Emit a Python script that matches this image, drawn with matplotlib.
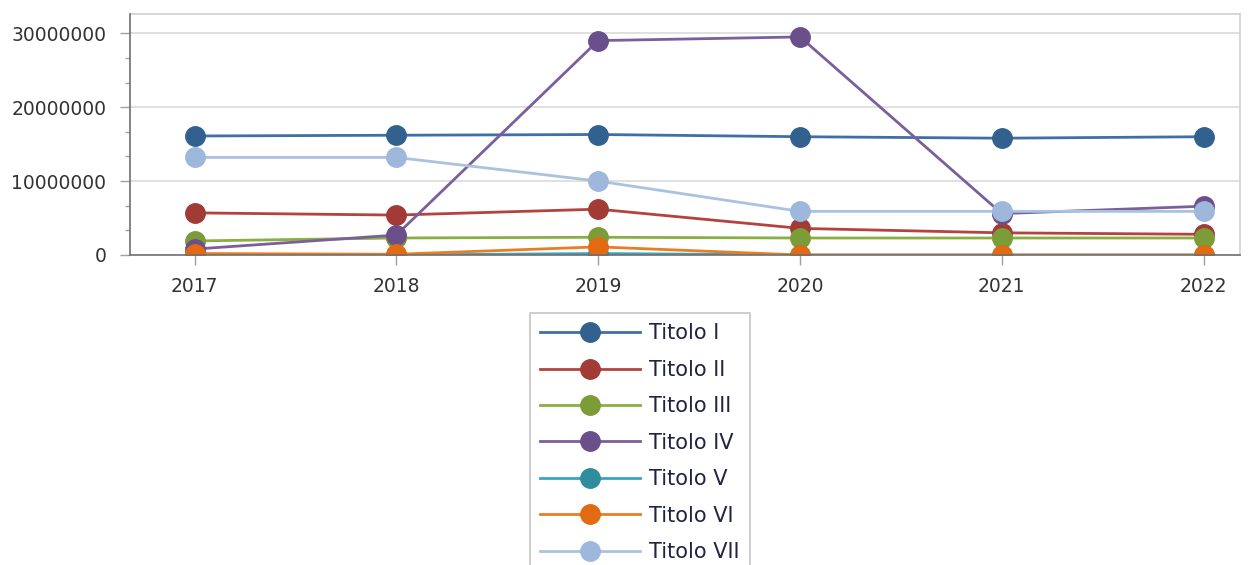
import matplotlib
matplotlib.use("Agg")
import matplotlib.pyplot as plt
from matplotlib.ticker import MultipleLocator, FuncFormatter

years = [2017, 2018, 2019, 2020, 2021, 2022]
series_names = ["Titolo I", "Titolo II", "Titolo III", "Titolo IV", "Titolo V", "Titolo VI", "Titolo VII"]
titolo_i = [16.1e6, 16.2e6, 16.3e6, 16.0e6, 15.8e6, 16.0e6]
titolo_ii = [5.7e6, 5.4e6, 6.2e6, 3.6e6, 3.0e6, 2.8e6]
titolo_iii = [1.9e6, 2.3e6, 2.4e6, 2.3e6, 2.3e6, 2.3e6]
titolo_iv = [0.8e6, 2.7e6, 29.0e6, 29.5e6, 5.6e6, 6.6e6]
titolo_v = [0.0, 0.0, 0.2e6, 0.0, 0.0, 0.0]
titolo_vi = [0.2e6, 0.1e6, 1.1e6, 0.0, 0.0, 0.0]
titolo_vii = [13.2e6, 13.2e6, 10.0e6, 5.9e6, 5.9e6, 5.9e6]
series_values = [titolo_i, titolo_ii, titolo_iii, titolo_iv, titolo_v, titolo_vi, titolo_vii]

line_colors = ["#3E6FA8", "#B4433F", "#8BAE40", "#7B5E9C", "#3BA3BD", "#EA7D22", "#A9C2E0"]
marker_colors = ["#33618F", "#A23A36", "#7C9C37", "#6A4F8A", "#2F8C9D", "#E26A12", "#9DB8DA"]

plt.rcParams["font.family"] = ["DejaVu Sans"]
fig = plt.figure(figsize=(12.5, 5.65), dpi=100)
ax = fig.add_axes([130/1250, 1-255/565, 1110/1250, 241/565])

for i, (name, vals) in enumerate(zip(series_names, series_values)):
    ax.plot(years, vals, color=line_colors[i], lw=2.0, marker="o", markersize=14,
            markerfacecolor=marker_colors[i], markeredgecolor=marker_colors[i],
            label=name, zorder=3 + i, clip_on=True)

ax.set_xlim(2016.68, 2022.18)
ax.set_ylim(0, 32.6e6)
ax.set_xticks(years)
ax.set_xticklabels([str(y) for y in years])
ax.yaxis.set_major_locator(MultipleLocator(10e6))
ax.yaxis.set_minor_locator(MultipleLocator(10e6/3))
ax.yaxis.set_major_formatter(FuncFormatter(lambda v, p: "%d" % round(v)))
ax.grid(axis="y", which="major", color="#DADADA", lw=1.2, zorder=0)

for s in ["top", "right"]:
    ax.spines[s].set_color("#D0D0D0")
    ax.spines[s].set_linewidth(1.2)
for s in ["left", "bottom"]:
    ax.spines[s].set_color("#707070")
    ax.spines[s].set_linewidth(1.2)
    ax.spines[s].set_zorder(20)

ax.tick_params(axis="both", which="major", labelsize=13.5, labelcolor="#333333",
               color="#A0A0A0", length=7, width=1)
ax.tick_params(axis="y", which="minor", color="#A0A0A0", length=3.5, width=1)
ax.tick_params(axis="x", pad=9)
ax.tick_params(axis="y", pad=10)

leg = fig.legend(loc="upper left", bbox_to_anchor=(530/1250, 1-313/565),
                 bbox_transform=fig.transFigure, borderaxespad=0,
                 fontsize=15, handlelength=4.8, handletextpad=0.4,
                 labelspacing=0.79, frameon=True, fancybox=False,
                 edgecolor="#B8B8B8", borderpad=0.5, markerscale=1.0)
leg.get_frame().set_linewidth(1.2)
for t in leg.get_texts():
    t.set_color("#222244")

fig.savefig("out.png", dpi=100)
